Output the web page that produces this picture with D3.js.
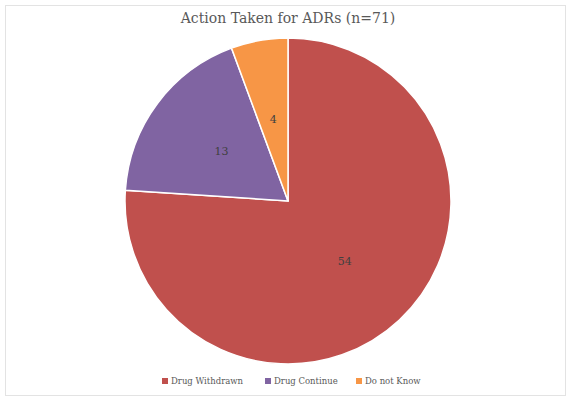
<!DOCTYPE html>
<html>
<head>
<meta charset="utf-8">
<script src="https://cdn.jsdelivr.net/npm/d3@7"></script>
<style>
  html, body { margin: 0; padding: 0; background: #fff; }
  svg { display: block; }
</style>
</head>
<body>
<svg id="chart" width="566" height="400"></svg>
<script>
const categories = ["Drug Withdrawn", "Drug Continue", "Do not Know"];
const values = [54, 13, 4];
const colors = ["#C0504D", "#8064A2", "#F79646"];
const title = "Action Taken for ADRs (n=71)";

const svg = d3.select("#chart");
const W = 566, H = 400;
const font = "'DejaVu Serif', 'Liberation Serif', serif";

svg.append("rect")
  .attr("x", 5.5).attr("y", 5.5)
  .attr("width", W - 6).attr("height", H - 10)
  .attr("fill", "#fff").attr("stroke", "#e3e3e3").attr("stroke-width", 1);

svg.append("text")
  .attr("x", 288).attr("y", 23)
  .attr("text-anchor", "middle")
  .attr("font-family", font)
  .attr("font-size", 14)
  .attr("fill", "#595959")
  .text(title);

const cx = 288, cy = 201, R = 163;
const data = categories.map((c, i) => ({ name: c, value: values[i], color: colors[i] }));
const pie = d3.pie().value(d => d.value).sort(null);
const arcs = pie(data);
const arc = d3.arc().innerRadius(0).outerRadius(R);
const labelArc = d3.arc().innerRadius(R * 0.51).outerRadius(R * 0.51);

const g = svg.append("g").attr("transform", `translate(${cx},${cy})`);
g.selectAll("path.slice").data(arcs).enter().append("path")
  .attr("class", "slice")
  .attr("d", arc)
  .attr("fill", d => d.data.color)
  .attr("stroke", "#fff")
  .attr("stroke-width", 1.5);

g.selectAll("text.lbl").data(arcs).enter().append("text")
  .attr("class", "lbl")
  .attr("transform", d => `translate(${labelArc.centroid(d)})`)
  .attr("text-anchor", "middle")
  .attr("dominant-baseline", "central")
  .attr("font-family", font)
  .attr("font-size", 11)
  .attr("fill", "#404040")
  .text(d => d.data.value);

// legend
const legend = svg.append("g");
const legendX = [162, 265, 356];
const ly = 381;
data.forEach((d, i) => {
  legend.append("rect")
    .attr("x", legendX[i]).attr("y", ly - 3)
    .attr("width", 6).attr("height", 6)
    .attr("fill", d.color);
  legend.append("text")
    .attr("x", legendX[i] + 9).attr("y", ly)
    .attr("dominant-baseline", "central")
    .attr("font-family", font)
    .attr("font-size", 8.5)
    .attr("fill", "#595959")
    .text(d.name);
});
</script>
</body>
</html>
